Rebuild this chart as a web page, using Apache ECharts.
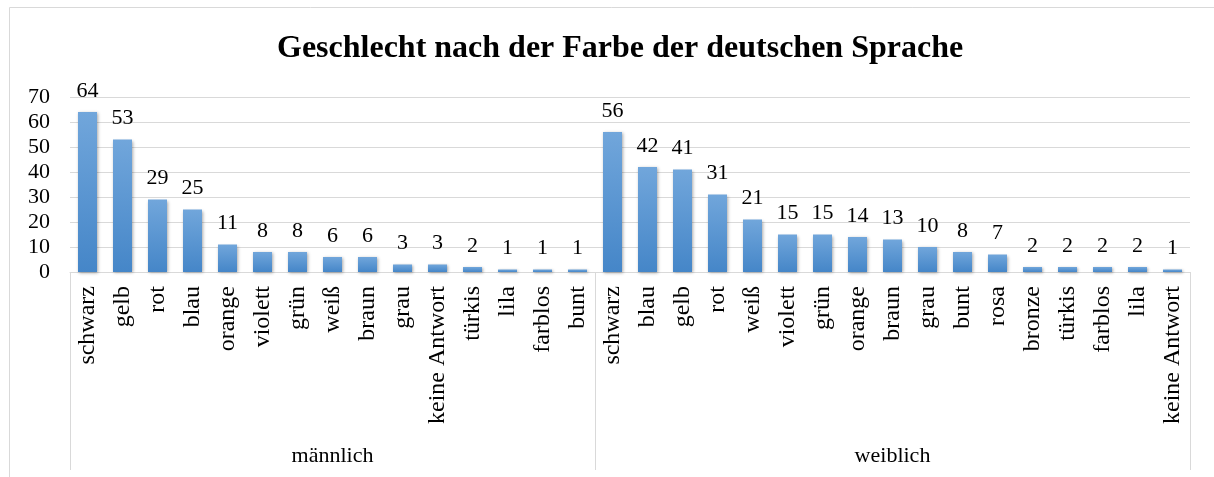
<!DOCTYPE html>
<html>
<head>
<meta charset="utf-8">
<script src="https://cdn.jsdelivr.net/npm/echarts@6/dist/echarts.min.js"></script>
<style>
  html, body { margin: 0; padding: 0; background: #fff; }
  #chart { width: 1214px; height: 477px; }
</style>
</head>
<body>
<div id="chart"></div>
<script>
// ========== 数据 ==========
const maleColors = ["schwarz", "gelb", "rot", "blau", "orange", "violett", "grün", "weiß", "braun", "grau", "keine Antwort", "türkis", "lila", "farblos", "bunt"];
const maleValues = [64, 53, 29, 25, 11, 8, 8, 6, 6, 3, 3, 2, 1, 1, 1];
const femaleColors = ["schwarz", "blau", "gelb", "rot", "weiß", "violett", "grün", "orange", "braun", "grau", "bunt", "rosa", "bronze", "türkis", "farblos", "lila", "keine Antwort"];
const femaleValues = [56, 42, 41, 31, 21, 15, 15, 14, 13, 10, 8, 7, 2, 2, 2, 2, 1];
const groups = ["männlich", "weiblich"];
const yTicks = [0, 10, 20, 30, 40, 50, 60, 70];

const FONT = "'Liberation Serif', 'Times New Roman', serif";

// ========== 两级类目轴 ==========
const categories = maleColors.concat(femaleColors);
const values = maleValues.concat(femaleValues);
const groupStart = [0, maleColors.length];
const groupCenter = [
  Math.floor(maleColors.length / 2),
  maleColors.length + Math.floor(femaleColors.length / 2),
];
const groupAxisData = categories.map((c, i) => {
  const g = groupCenter.indexOf(i);
  return g >= 0 ? groups[g] : "";
});

const chart = echarts.init(document.getElementById("chart"));

chart.setOption({
  animation: false,
  backgroundColor: "#fff",
  title: {
    text: "Geschlecht nach der Farbe der deutschen Sprache",
    left: 272,
    top: 28,
    textStyle: { fontFamily: FONT, fontSize: 32, fontWeight: "bold", color: "#000" },
  },
  graphic: [
    {
      type: "polyline",
      shape: { points: [[9.5, 477], [9.5, 7.5], [1214, 7.5]] },
      style: { stroke: "#d9d9d9", lineWidth: 1, fill: null },
      silent: true,
    },
  ],
  grid: { left: 70, right: 24, top: 97, bottom: 205 },
  xAxis: [
    {
      type: "category",
      data: categories,
      position: "bottom",
      axisLine: { show: true, lineStyle: { color: "#d9d9d9", width: 1 } },
      axisTick: { show: false },
      axisLabel: {
        interval: 0,
        rotate: 90,
        margin: 14,
        fontFamily: FONT,
        fontSize: 24,
        color: "#000",
      },
    },
    {
      type: "category",
      data: groupAxisData,
      position: "bottom",
      axisLine: { show: false },
      axisTick: {
        show: true,
        length: 198,
        interval: (i) => groupStart.indexOf(i) >= 0,
        lineStyle: { color: "#d9d9d9", width: 1 },
      },
      axisLabel: {
        interval: 0,
        margin: 173,
        fontFamily: FONT,
        fontSize: 22,
        color: "#000",
      },
    },
  ],
  yAxis: {
    type: "value",
    min: yTicks[0],
    max: yTicks[yTicks.length - 1],
    interval: 10,
    axisLine: { show: false },
    axisTick: { show: false },
    splitLine: { lineStyle: { color: "#d9d9d9", width: 1 } },
    axisLabel: { margin: 20, fontFamily: FONT, fontSize: 22, color: "#000" },
  },
  series: [
    {
      type: "bar",
      xAxisIndex: 0,
      data: values,
      barWidth: 19,
      itemStyle: {
        color: new echarts.graphic.LinearGradient(0, 0, 0, 1, [
          { offset: 0, color: "#71a6db" },
          { offset: 1, color: "#4586c8" },
        ]),
        shadowColor: "rgba(0,0,0,0.35)",
        shadowBlur: 3,
        shadowOffsetX: 1,
        shadowOffsetY: 1,
      },
      label: {
        show: true,
        position: "top",
        distance: 10,
        fontFamily: FONT,
        fontSize: 22,
        color: "#000",
      },
    },
  ],
});

window.addEventListener("resize", () => chart.resize());
</script>
</body>
</html>
